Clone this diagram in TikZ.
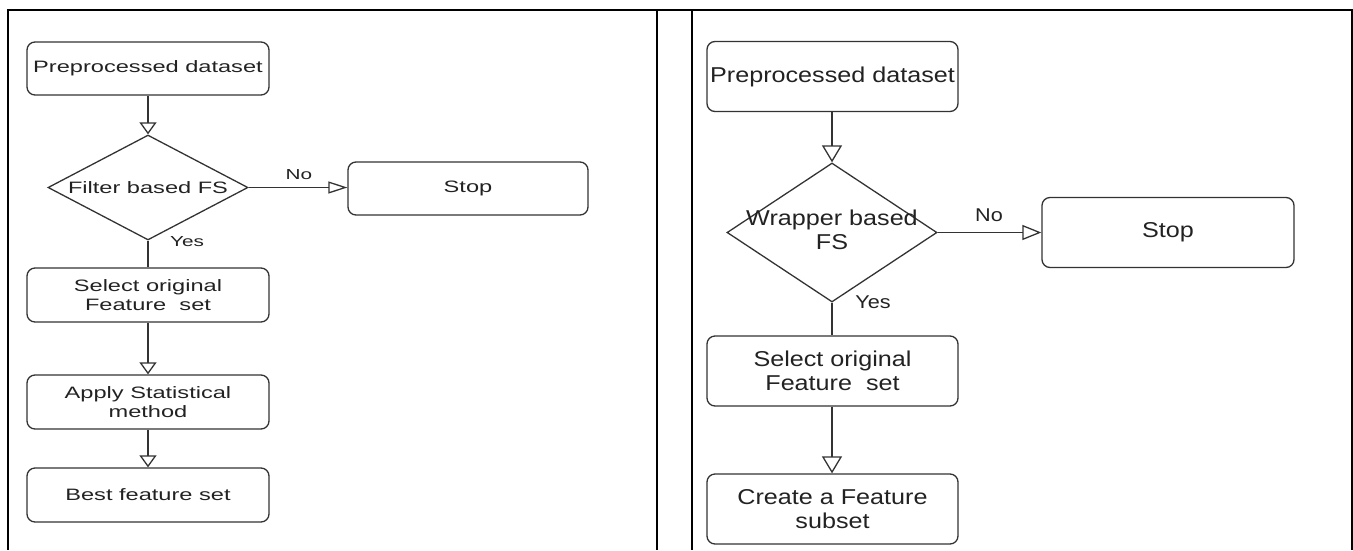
\documentclass[tikz,border=0pt]{standalone}
\usepackage{fontspec}
\setmainfont{Liberation Sans}
\newfontfamily\lfont{Liberation Sans}[FakeStretch=1.43]
\newfontfamily\rfont{Liberation Sans}[FakeStretch=1.17]
\usetikzlibrary{shapes.geometric,arrows.meta}
\definecolor{ln}{HTML}{333333}
\definecolor{tx}{HTML}{222222}
\begin{document}
\begin{tikzpicture}[x=1pt,y=-1pt,
  frame/.style={line width=2pt, black},
  lbox/.style={draw=ln, line width=1.3pt, rounded corners=8pt, minimum width=242pt, minimum height=53pt, inner sep=0pt, align=center, text=tx, font=\lfont\fontsize{16.5}{18.5}\selectfont},
  rbox/.style={draw=ln, line width=1.3pt, rounded corners=8pt, minimum width=251pt, minimum height=70pt, inner sep=0pt, align=center, text=tx, font=\rfont\fontsize{21.5}{24}\selectfont},
  dia/.style={draw=ln, line width=1.3pt, shape=diamond, inner sep=0pt},
  ltext/.style={align=center, text=tx, inner sep=0pt, font=\lfont\fontsize{16.5}{18.5}\selectfont},
  rtext/.style={align=center, text=tx, inner sep=0pt, font=\rfont\fontsize{21.5}{24}\selectfont},
  llab/.style={text=tx, inner sep=0pt, font=\lfont\fontsize{14.5}{16}\selectfont},
  rlab/.style={text=tx, inner sep=0pt, font=\rfont\fontsize{18.5}{20}\selectfont},
  conn/.style={draw=ln, line width=1.3pt},
  lva/.style={conn, -{Triangle[open, length=12pt, width=17pt]}},
  lha/.style={conn, -{Triangle[open, length=19pt, width=12pt]}},
  rva/.style={conn, -{Triangle[open, length=17pt, width=20pt]}},
  rha/.style={conn, -{Triangle[open, length=19pt, width=15pt]}}
]
\useasboundingbox (0,0) rectangle (1353,550);
% table frame
\draw[frame] (8,10) -- (1352,10);
\draw[frame] (8,9) -- (8,550);
\draw[frame] (657,10) -- (657,550);
\draw[frame] (692,10) -- (692,550);
\draw[frame] (1351.5,9) -- (1351.5,550);

% left flowchart
\node[lbox] (lp) at (148,68.5) {Preprocessed dataset};
\node[dia, minimum width=200pt, minimum height=105pt] (ld) at (148,187.5) {};
\node[ltext] (ldt) at (ld.center) {Filter based FS};
\node[lbox, minimum width=240pt] (lstop) at (468,188.5) {Stop};
\node[lbox, minimum height=54pt] (lsel) at (148,295) {Select original\\Feature\ \ set};
\node[lbox, minimum height=54pt] (lapp) at (148,402) {Apply Statistical\\method};
\node[lbox, minimum height=54pt] (lbest) at (148,495) {Best feature set};
\draw[lva] (lp) -- (ld.north);
\draw[lha] (ld.east) -- (ld.east -| lstop.west);
\draw[conn] (ld.south) -- (lsel);
\draw[lva] (lsel) -- (lapp);
\draw[lva] (lapp) -- (lbest);
\node[llab] (lno) at (299,175) {No};
\node[llab] (lyes) at (187,242) {Yes};

% right flowchart
\node[rbox] (rp) at (832.5,76.5) {Preprocessed dataset};
\node[dia, minimum width=210pt, minimum height=139pt] (rd) at (832,232.5) {};
\node[rtext] (rdt) at (832,230) {Wrapper based\\FS};
\node[rbox, minimum width=252pt] (rstop) at (1168,232.5) {Stop};
\node[rbox] (rsel) at (832.5,371) {Select original\\Feature\ \ set};
\node[rbox] (rcre) at (832.5,509) {Create a Feature\\subset};
\draw[rva] (rp.south -| rd.north) -- (rd.north);
\draw[rha] (rd.east) -- (rd.east -| rstop.west);
\draw[conn] (rd.south) -- (rd.south |- rsel.north);
\draw[rva] (rsel.south -| rd.south) -- (rcre.north -| rd.south);
\node[rlab] (rno) at (989,215) {No};
\node[rlab] (ryes) at (873,302) {Yes};
\end{tikzpicture}
\end{document}
